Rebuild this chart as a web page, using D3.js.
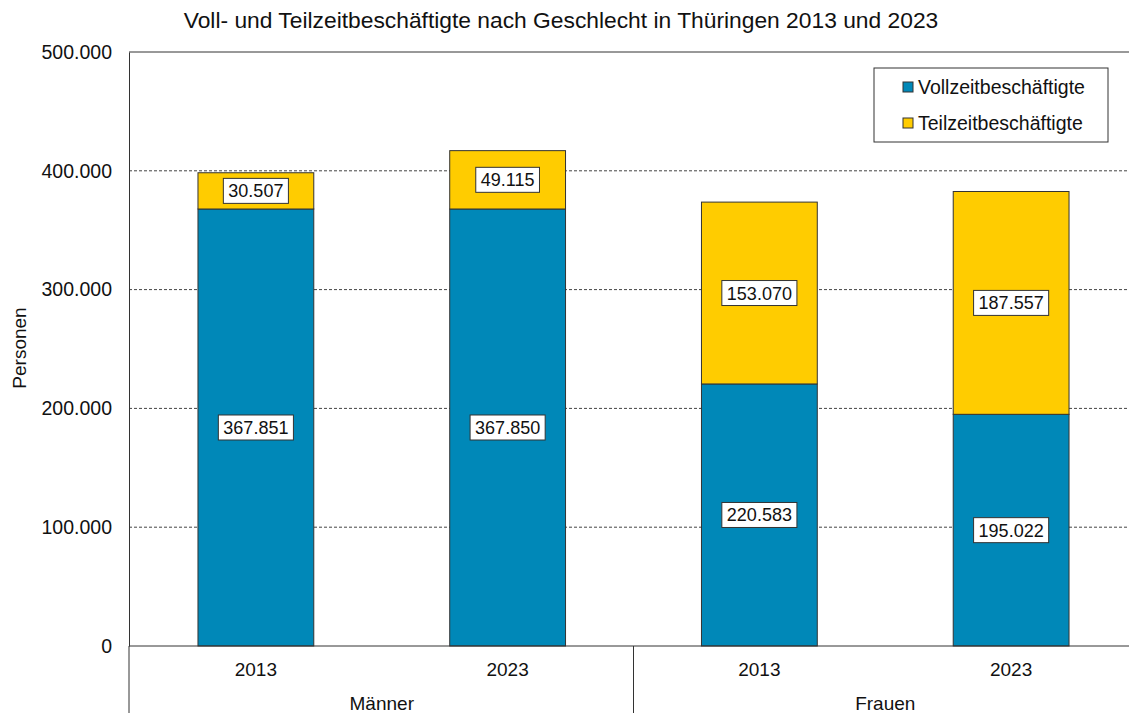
<!DOCTYPE html>
<html lang="de">
<head>
    <meta charset="utf-8">
    <title>Voll- und Teilzeitbeschäftigte</title>
    <script src="https://d3js.org/d3.v7.min.js"></script>
    <style>
        body { margin: 0; background: #fff; }
        svg { font-family: "Liberation Sans", Arial, sans-serif; }
        .grid line { stroke: #444; stroke-dasharray: 3,2; stroke-width: 1; }
    </style>
</head>
<body>
<script>
    const groups = ["Männer", "Frauen"];
    const years = ["2013", "2023"];
    const vollzeit = [367851, 367850, 220583, 195022];
    const teilzeit = [30507, 49115, 153070, 187557];
    const yTicks = [0, 100000, 200000, 300000, 400000, 500000];
    const seriesNames = ["Vollzeitbeschäftigte", "Teilzeitbeschäftigte"];
    const colors = ["#0088b8", "#ffcc00"];

    const W = 1129, H = 713;
    const plotL = 129, plotR = 1136, plotT = 52, plotB = 646;

    const cats = [];
    groups.forEach(g => years.forEach(y => cats.push({group: g, year: y, key: g + y})));
    const rows = cats.map((c, i) => ({...c, voll: vollzeit[i], teil: teilzeit[i]}));

    const svg = d3.select("body").append("svg").attr("width", W).attr("height", H);

    const x = d3.scaleBand().domain(cats.map(c => c.key)).range([plotL + 1, plotR + 1])
        .paddingInner(0.54).paddingOuter(0.27);
    const y = d3.scaleLinear().domain([0, 500000]).range([plotB, plotT]);
    const fmt = d3.formatLocale({decimal: ",", thousands: ".", grouping: [3], currency: ["", "€"]}).format(",d");

    // gridlines
    svg.append("g").attr("class", "grid")
        .selectAll("line").data(yTicks.filter(t => t > 0 && t < 500000)).enter()
        .append("line")
        .attr("x1", plotL).attr("x2", plotR)
        .attr("y1", d => y(d)).attr("y2", d => y(d));

    // plot frame top
    svg.append("line").attr("x1", plotL).attr("x2", plotR).attr("y1", plotT).attr("y2", plotT)
        .attr("stroke", "#333");

    // y axis
    const yAxis = d3.axisLeft(y).tickValues(yTicks).tickSize(0).tickPadding(17).tickFormat(fmt);
    const ya = svg.append("g").attr("transform", `translate(${plotL},0)`).call(yAxis);
    ya.select(".domain").attr("stroke", "#333");
    ya.selectAll("text").attr("font-size", 19.5).attr("fill", "#111").attr("font-family", "Liberation Sans, Arial");

    // stacked bars
    const stack = d3.stack().keys(["voll", "teil"])(rows);
    svg.append("g").selectAll("g").data(stack).enter()
        .append("g").attr("fill", (d, i) => colors[i])
        .selectAll("rect").data(d => d).enter()
        .append("rect")
        .attr("x", d => x(d.data.key))
        .attr("width", x.bandwidth())
        .attr("y", d => y(d[1]))
        .attr("height", d => y(d[0]) - y(d[1]))
        .attr("stroke", "#333").attr("stroke-width", 1);

    // value labels
    const labels = [];
    stack.forEach(s => s.forEach(d => labels.push({key: d.data.key, v: d[1] - d[0], mid: (d[0] + d[1]) / 2})));
    const lg = svg.append("g").selectAll("g").data(labels).enter().append("g")
        .attr("transform", d => `translate(${x(d.key) + x.bandwidth() / 2},${y(d.mid)})`);
    lg.append("text")
        .attr("text-anchor", "middle").attr("dy", "0.36em")
        .attr("font-size", 18).attr("fill", "#111")
        .text(d => fmt(d.v));
    lg.each(function () {
        const g = d3.select(this);
        const bb = g.select("text").node().getBBox();
        g.insert("rect", "text")
            .attr("x", bb.x - 5).attr("y", -12.5)
            .attr("width", bb.width + 10).attr("height", 25)
            .attr("fill", "#fff").attr("stroke", "#333");
    });

    // x axis baseline
    svg.append("line").attr("x1", plotL).attr("x2", plotR).attr("y1", plotB).attr("y2", plotB)
        .attr("stroke", "#333");

    // year labels
    svg.append("g").selectAll("text").data(cats).enter().append("text")
        .attr("x", d => x(d.key) + x.bandwidth() / 2).attr("y", 676)
        .attr("text-anchor", "middle").attr("font-size", 19).attr("fill", "#111")
        .text(d => d.year);

    // group labels and separators
    const step = x.step();
    groups.forEach((g, gi) => {
        const gx0 = plotL + 1 + gi * 2 * step;
        svg.append("line").attr("x1", gx0 - (gi === 0 ? 1 : 0)).attr("x2", gx0 - (gi === 0 ? 1 : 0))
            .attr("y1", plotB).attr("y2", H)
            .attr("stroke", "#333");
        svg.append("text").attr("x", gx0 + step).attr("y", 710)
            .attr("text-anchor", "middle").attr("font-size", 19).attr("fill", "#111").text(g);
    });

    // title
    svg.append("text").attr("x", 561).attr("y", 28).attr("text-anchor", "middle")
        .attr("font-size", 22.8).attr("fill", "#111")
        .text("Voll- und Teilzeitbeschäftigte nach Geschlecht in Thüringen 2013 und 2023");

    // y axis title
    svg.append("text").attr("transform", "translate(26,348) rotate(-90)")
        .attr("text-anchor", "middle").attr("font-size", 19).attr("fill", "#111").text("Personen");

    // legend
    const leg = svg.append("g").attr("transform", "translate(874,68)");
    leg.append("rect").attr("width", 234).attr("height", 74).attr("fill", "#fff").attr("stroke", "#333");
    seriesNames.forEach((n, i) => {
        const ly = 19 + i * 36;
        leg.append("rect").attr("x", 29).attr("y", ly - 5).attr("width", 10).attr("height", 10)
            .attr("fill", colors[i]).attr("stroke", "#333");
        leg.append("text").attr("x", 44).attr("y", ly).attr("dy", "0.36em")
            .attr("font-size", 19.5).attr("fill", "#111").text(n);
    });
</script>
</body>
</html>
